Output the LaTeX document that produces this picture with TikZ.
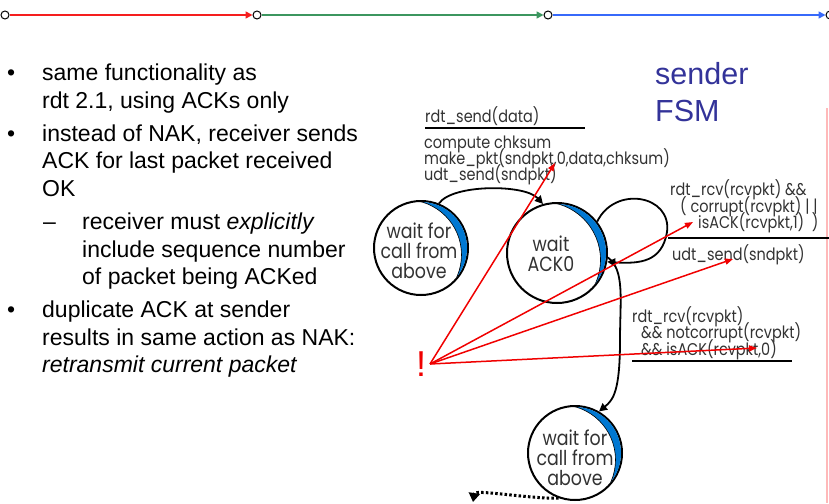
\documentclass[tikz,border=0pt]{standalone}
\usepackage{fontspec}
\setmainfont{Liberation Sans}
\newfontfamily\fsmfont[FakeStretch=0.85]{Poppins}
\usetikzlibrary{arrows.meta,calc}
\definecolor{hdrred}{RGB}{245,30,30}
\definecolor{hdrgreen}{RGB}{60,150,95}
\definecolor{hdrblue}{RGB}{55,105,250}
\definecolor{fsmgray}{RGB}{50,50,50}
\definecolor{fsmblue}{RGB}{0,120,210}
\definecolor{bangred}{RGB}{240,0,0}
\definecolor{titleblue}{RGB}{51,51,153}
\definecolor{pinkline}{RGB}{255,185,185}
\newcommand\crescentfor[2]{%
  \begin{scope}
    \clip (#1.center) circle[radius=#2-1];
    \fill[fsmblue, even odd rule] (#1.center) circle[radius=#2]
      ($(#1.center)+(-14.5,6.8)$) circle[radius=#2+8];
    \draw[black, line width=0.6] ($(#1.center)+(-14.5,6.8)$) circle[radius=#2+8];
  \end{scope}}
\begin{document}
\begin{tikzpicture}[x=1pt,y=-1pt,
  bul/.style={anchor=base west, inner sep=0, font=\fontsize{23}{27}\selectfont},
  fsm/.style={anchor=base west, inner sep=0, text=fsmgray, font=\fsmfont\fontsize{17}{17}\selectfont},
  state/.style={circle, draw=black, line width=2, minimum size=#1, inner sep=0},
  statetext/.style={align=center, inner sep=0, text=fsmgray, font=\fsmfont\fontsize{20.5}{20}\selectfont},
  trans/.style={draw=black, line width=1.8, -{Triangle[length=8,width=8]}},
  redarrow/.style={draw=bangred, line width=1.5, -{Triangle[length=8,width=6]}},
  rulebar/.style={draw=black, line width=1.8},
  hdot/.style={circle, draw=black, fill=white, line width=1, minimum size=8, inner sep=0},
  hdr/.style={line width=1.6, -{Triangle[length=7,width=7]}}]
\useasboundingbox (0,0) rectangle (829,503);

% header
\node[hdot] (h0) at (5,15) {};
\node[hdot] (h1) at (257,15) {};
\node[hdot] (h2) at (548,15) {};
\node[hdot] (h3) at (830,15) {};
\draw[hdr, hdrred] (h0) -- (h1);
\draw[hdr, hdrgreen] (h1) -- (h2);
\draw[hdr, hdrblue] (h2) -- (h3);

% right pink line
\draw[pinkline, line width=1.5] (827,108) -- (827,503);

% bullets
\node[bul] (d1) at (7,80) {•};
\node[bul] (b1) at (42,80) {same functionality as};
\node[bul] (b2) at (42,108) {rdt 2.1, using ACKs only};
\node[bul] (d2) at (7,141) {•};
\node[bul] (b3) at (42,141) {instead of NAK, receiver sends};
\node[bul] (b4) at (42,168) {ACK for last packet received};
\node[bul] (b5) at (42,196) {OK};
\node[bul] (d3) at (43,229) {–};
\node[bul] (b6) at (82,229) {receiver must \textit{explicitly}};
\node[bul] (b7) at (82,257) {include sequence number};
\node[bul] (b8) at (82,284) {of packet being ACKed};
\node[bul] (d4) at (7,317) {•};
\node[bul] (b9) at (42,317) {duplicate ACK at sender};
\node[bul] (b10) at (42,345) {results in same action as NAK:};
\node[bul] (b11) at (42,372) {\textit{retransmit current packet}};

% title
\node[anchor=base west, inner sep=0, text=titleblue, font=\fontsize{30.5}{37}\selectfont] (tt1) at (655,84) {sender};
\node[anchor=base west, inner sep=0, text=titleblue, font=\fontsize{30.5}{37}\selectfont] (tt2) at (655,121) {FSM};

% states
\node[state=94] (s1) at (421,248) {};
\node[state=100] (s2) at (557,253) {};
\node[state=94] (s3) at (575,453) {};
\crescentfor{s1}{47}
\crescentfor{s2}{50}
\crescentfor{s3}{47}
\node[statetext] (s1t) at (419,251) {wait for\\call from\\above};
\node[statetext] (s2t) at (551,254) {wait\\ACK0};
\node[statetext] (s3t) at (575,458) {wait for\\call from\\above};

% transitions
\draw[trans] (s1.68) .. controls (452,184) and (525,184) .. (s2.106);
\draw[trans] (s2.38) .. controls (615,185) and (672,195) .. (667,232)
  .. controls (662,262) and (640,264) .. (s2.-10);
\draw[trans] (s2.-5) .. controls (625,270) and (620,300) .. (620,340)
  .. controls (620,392) and (613,400) .. (s3.60);
\coordinate (dotend) at (473,502);
\draw[line width=3, dash pattern=on 2.5pt off 2.2pt, -{Triangle[length=9,width=11]}] (s3.250) .. controls (530,499) and (475,489) .. (dotend);

% labels
\node[fsm] (l1) at (425,122) {rdt\_send(data)};
\draw[rulebar] (425,128) -- (585,128);
\node[fsm] (l2) at (424,148) {compute chksum};
\node[fsm] (l3) at (424,164) {make\_pkt(sndpkt,0,data,chksum)};
\node[fsm] (l4) at (424,180) {udt\_send(sndpkt)};

\node[fsm] (l5) at (670,195) {rdt\_rcv(rcvpkt) \&\&};
\node[fsm] (l6) at (680,212) {( corrupt(rcvpkt) | |};
\node[fsm] (l7) at (698,228) {isACK(rcvpkt,1)\ \ )};
\draw[rulebar] (668,238) -- (829,238);
\node[fsm] (l8) at (672,260) {udt\_send(sndpkt)};

\node[fsm] (l9) at (632,322) {rdt\_rcv(rcvpkt)};
\node[fsm] (l10) at (641,338) {\&\& notcorrupt(rcvpkt)};
\node[fsm] (l11) at (641,355) {\&\& isACK(rcvpkt,0)};
\draw[rulebar] (632,361) -- (792,361);

% red remarks
\node[anchor=base, inner sep=0, text=bangred, font=\fontsize{36}{36}\selectfont] (bang) at (421,376) {!};
\coordinate (bo) at (430,364);
\coordinate (t1) at (555,163);
\coordinate (t2) at (693,222);
\coordinate (t3) at (733,259);
\coordinate (t4) at (757,348);
\draw[redarrow] (bo) -- (t1);
\draw[redarrow] (bo) -- (t2);
\draw[redarrow] (bo) -- (t3);
\draw[redarrow] (bo) -- (t4);
\end{tikzpicture}
\end{document}
